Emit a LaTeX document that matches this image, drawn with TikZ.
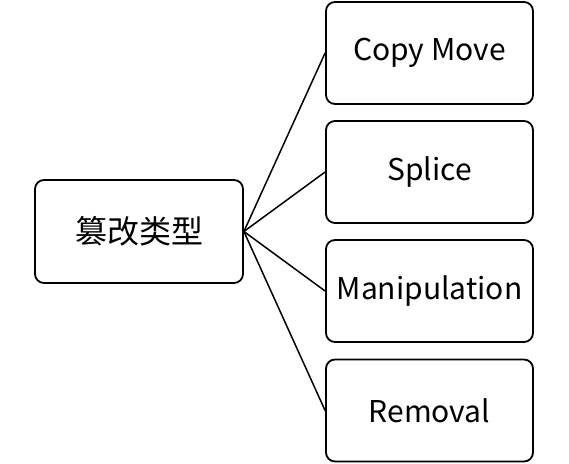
\documentclass[tikz,border=0pt]{standalone}
\usepackage{fontspec}
\setmainfont{Noto Sans CJK SC}
\begin{document}
\begin{tikzpicture}[x=1pt,y=-1pt,
  box/.style={draw,line width=1.8pt,rounded corners=9pt,minimum width=207pt,minimum height=102pt,inner sep=0pt,font=\fontsize{30}{36}\selectfont},
  conn/.style={line width=1.5pt}]
\useasboundingbox (0,0) rectangle (569,463);
\node[box,minimum width=208pt,minimum height=103pt,font=\fontsize{32}{38}\selectfont] (root) at (139,231.5) {篡改类型};
\node[box] (a) at (429.5,53) {Copy Move};
\node[box] (b) at (429.5,172) {Splice};
\node[box] (c) at (429.5,291) {Manipulation};
\node[box] (d) at (429.5,410.5) {Removal};
\foreach \n in {a,b,c,d} \draw[conn] (root.east) -- (\n.west);
\end{tikzpicture}
\end{document}
